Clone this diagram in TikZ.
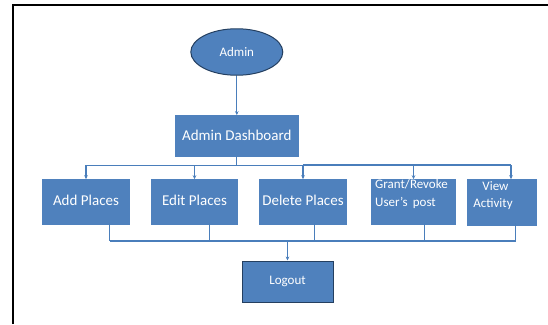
\documentclass[tikz,border=0pt]{standalone}
\usepackage{fontspec}
\setmainfont{Carlito}
\usetikzlibrary{arrows.meta,shapes.geometric}
\definecolor{boxblue}{HTML}{4F81BD}
\definecolor{edgeblue}{HTML}{4A7EBB}
\definecolor{rimblue}{HTML}{243F60}
\begin{document}
\begin{tikzpicture}[x=1pt,y=-1pt,
  box/.style={fill=boxblue, draw=none, inner sep=0pt, text=white,
              font=\fontsize{15}{17}\selectfont},
  smalltext/.style={inner sep=0pt, text=white, font=\fontsize{13}{17.5}\selectfont},
  link/.style={draw=edgeblue, line width=1.2pt},
  tip/.style={-{Stealth[length=4pt,width=3.6pt]}}]
\useasboundingbox (0,0) rectangle (548,324);
% page frame (open to the right and bottom)
\draw[line width=2.2pt, black] (13,324) -- (13,5) -- (548,5);

% nodes
\node[ellipse, fill=boxblue, draw=rimblue, line width=1pt, minimum width=92pt,
      minimum height=46.5pt, inner sep=0pt, text=white,
      font=\fontsize{13}{15}\selectfont] (admin) at (236.8,52) {Admin};
\node[box, minimum width=124pt, minimum height=41.4pt] (dash) at (236.8,136) {\raisebox{2pt}{Admin Dashboard}};
\node[box, minimum width=88pt, minimum height=45.6pt] (add) at (86,202.2) {\raisebox{3pt}{Add Places}};
\node[box, minimum width=87pt, minimum height=45.6pt] (edit) at (194.5,202.2) {\raisebox{3pt}{Edit Places}};
\node[box, minimum width=88pt, minimum height=45.6pt] (del) at (303,202.2) {\raisebox{3pt}{Delete Places}};
\node[box, minimum width=85pt, minimum height=45.6pt] (grant) at (413.5,202.2) {};
\node[box, minimum width=70.3pt, minimum height=46.6pt] (view) at (501.9,202.7) {};
\node[smalltext, align=left] (granttxt) at (411.5,194) {Grant/Revoke\\User’s\, post};
\node[smalltext, align=center] (viewtxt) at (493,195.8) {\hspace*{5pt}View\\Activity};
\node[box, draw=rimblue, line width=1pt, minimum width=91pt, minimum height=41.8pt,
      font=\fontsize{13}{15}\selectfont] (logout) at (287.5,281.9) {Logout};

% admin to dashboard
\draw[link, tip] (admin.south) -- (dash.north);

% dashboard fan-out
\coordinate (busL) at (85.6,165.4);
\coordinate (busR) at (511,165.4);
\draw[link] (dash.south) -- (dash.south |- busL);
\draw[link] (busL) -- (busR);
\draw[link] ([yshift=1.1pt]del.north |- busR) -- ([yshift=1.1pt]busR);
\draw[link, tip] (add.north |- busL) -- (add.north);
\draw[link, tip] (edit.north |- busL) -- (edit.north);
\draw[link, tip] (del.north |- busL) -- (del.north);
\draw[link, tip] (grant.north |- busL) -- (grant.north);
\draw[link, tip] (busR) -- (busR |- view.north);

% collecting bus to logout
\coordinate (addout) at (109.7,223);
\coordinate (editout) at (209.7,223);
\coordinate (delout) at (314.5,223);
\coordinate (grantout) at (424.6,223);
\coordinate (viewout) at (515.5,223);
\coordinate (joinL) at (109.7,241);
\coordinate (joinR) at (515.5,241);
\draw[link] (addout) -- (addout |- joinL);
\draw[link] (editout) -- (editout |- joinL);
\draw[link] (delout) -- (delout |- joinL);
\draw[link] (grantout) -- (grantout |- joinL);
\draw[link] (viewout) -- (viewout |- joinL);
\draw[link] (joinL) -- (joinR);
\draw[link, tip] (logout.north |- joinL) -- (logout.north);
\end{tikzpicture}
\end{document}
